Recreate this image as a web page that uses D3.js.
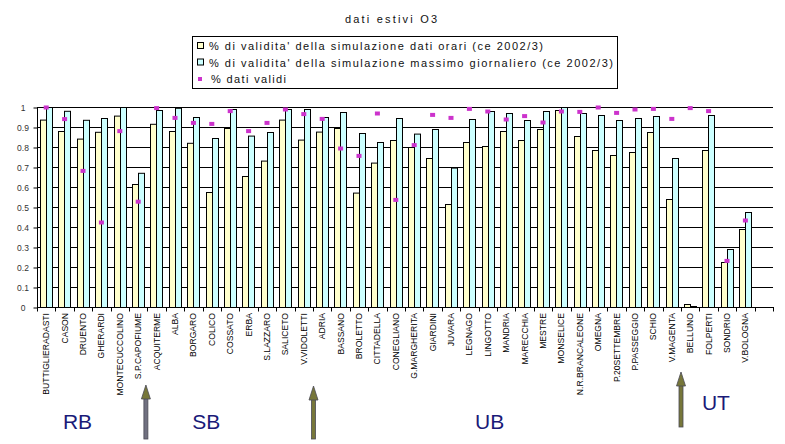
<!DOCTYPE html>
<html><head><meta charset="utf-8">
<script src="https://cdn.jsdelivr.net/npm/d3@7/dist/d3.min.js"></script>
<style>html,body{margin:0;padding:0;background:#fff;}svg{display:block;font-family:Arial,"Liberation Sans",sans-serif;}</style>
</head><body><svg id="c" width="785" height="444"></svg>
<script>
const categories = ["BUTTIGLIERADASTI","CASON","DRUENTO","GHERARDI","MONTECUCCOLINO","S.P.CAPOFIUME","ACQUITERME","ALBA","BORGARO","COLICO","COSSATO","ERBA","S.LAZZARO","SALICETO","V.VIDOLETTI","ADRIA","BASSANO","BROLETTO","CITTADELLA","CONEGLIANO","G.MARGHERITA","GIARDINI","JUVARA","LEGNAGO","LINGOTTO","MANDRIA","MARECCHIA","MESTRE","MONSELICE","N.R.BRANCALEONE","OMEGNA","P.20SETTEMBRE","P.PASSEGGIO","SCHIO","V.MAGENTA","BELLUNO","FOLPERTI","SONDRIO","V.BOLOGNA",""];
const orari =   [0.937,0.880,0.842,0.876,0.957,0.615,0.916,0.880,0.821,0.575,0.895,0.655,0.732,0.937,0.837,0.877,0.895,0.572,0.722,0.835,0.800,0.745,0.515,0.825,0.805,0.880,0.835,0.890,0.985,0.855,0.785,0.760,0.775,0.875,0.540,0.015,0.785,0.225,0.390,null];
const massimo = [1.000,0.981,0.936,0.945,1.000,0.671,0.985,0.996,0.950,0.845,0.990,0.857,0.875,0.990,0.990,0.950,0.975,0.870,0.825,0.945,0.867,0.890,0.697,0.940,0.980,0.970,0.935,0.980,1.000,0.970,0.960,0.935,0.945,0.955,0.745,0.005,0.960,0.290,0.475,null];
const validi =  [1.000,0.942,0.683,0.425,0.882,0.529,0.997,0.948,0.923,0.918,0.982,0.882,0.923,0.990,0.967,0.943,0.795,0.758,0.970,0.538,0.812,0.963,0.948,0.993,0.980,0.940,0.957,0.925,0.980,0.978,1.000,0.973,0.990,0.993,0.943,0.997,0.982,0.233,0.435,null];
const yTicks = [0,0.1,0.2,0.3,0.4,0.5,0.6,0.7,0.8,0.9,1];
const seriesNames = ["% di validita' della simulazione dati orari (ce 2002/3)","% di validita' della simulazione massimo giornaliero (ce 2002/3)","% dati validi"];
const colors = ["#FFFFCC","#CCFFFF","#CC33CC"];
const title = "dati estivi O3";
const regions = [{label:"RB", at:2.2, y:429},{label:"SB", at:9.2, y:429},{label:"UB", at:24.6, y:429},{label:"UT", at:36.9, y:410}];
const arrows = [{at:6, tip:385, bottom:439, dx:-1.5, shaft:"#707080"},{at:15, tip:386, bottom:439, dx:0.5, shaft:"#77773A"},{at:35, tip:372, bottom:427, dx:0, shaft:"#77773A"}];

const svg = d3.select("#c");
const x = d3.scaleBand().domain(d3.range(categories.length)).range([37,773]).padding(0);
const y = d3.scaleLinear().domain([0,1]).range([307.5,107.5]);
const bw = x.bandwidth();

// title
svg.append("text").attr("x",391).attr("y",23).attr("text-anchor","middle")
  .attr("font-size",11).attr("textLength",92).attr("lengthAdjust","spacing").attr("fill","#111").text(title);

// gridlines
svg.append("g").selectAll("line").data(yTicks.slice(1)).join("line")
  .attr("x1",37).attr("x2",773).attr("y1",d=>y(d)).attr("y2",d=>y(d))
  .attr("stroke","#000").attr("stroke-width",1);

// y axis
const ya = svg.append("g").attr("transform","translate(37.5,0)")
  .call(d3.axisLeft(y).tickValues(yTicks).tickSize(4).tickFormat(d=>d3.format("")(+d.toFixed(1))));
ya.select(".domain").attr("stroke","#000").attr("d","M0,107.5V307.5");
ya.selectAll(".tick line").attr("stroke","#000");
ya.selectAll(".tick text").attr("font-size",8.5).attr("fill","#333").attr("text-anchor","middle").attr("x",-14.5).attr("font-family","Arial, Liberation Sans, sans-serif");

// bars
const g = svg.append("g");
categories.forEach((c,i)=>{
  const x0 = x(i);
  if (orari[i]!=null) g.append("rect").attr("x",Math.round(x0+bw/6)+0.5).attr("y",y(orari[i]))
     .attr("width",Math.round(bw/3)).attr("height",y(0)-y(orari[i]))
     .attr("fill",colors[0]).attr("stroke","#000").attr("stroke-width",1);
  if (massimo[i]!=null) g.append("rect").attr("x",Math.round(x0+bw/6)+Math.round(bw/3)+0.5).attr("y",y(massimo[i]))
     .attr("width",Math.round(bw/3)).attr("height",y(0)-y(massimo[i]))
     .attr("fill",colors[1]).attr("stroke","#000").attr("stroke-width",1);
});
// markers
svg.append("g").selectAll("rect").data(validi.map((v,i)=>({v,i})).filter(d=>d.v!=null)).join("rect")
  .attr("x",d=>x(d.i)+bw/2-2.5).attr("y",d=>y(d.v)-2).attr("width",5).attr("height",4).attr("fill",colors[2]);

// x axis
svg.append("line").attr("x1",37).attr("x2",773).attr("y1",307.5).attr("y2",307.5).attr("stroke","#000");
svg.append("g").selectAll("line").data(d3.range(categories.length+1)).join("line")
  .attr("x1",d=>Math.round(37+d*bw)+0.5).attr("x2",d=>Math.round(37+d*bw)+0.5).attr("y1",307).attr("y2",311.5).attr("stroke","#000");
svg.append("g").selectAll("text").data(categories).join("text")
  .attr("transform",(d,i)=>`translate(${x(i)+bw/2},313) rotate(-90)`)
  .attr("text-anchor","end").attr("dy","0.35em").attr("font-size",8.6).attr("fill","#000").text(d=>d);

// legend
const lg = svg.append("g");
lg.append("rect").attr("x",192.5).attr("y",36.5).attr("width",425).attr("height",52).attr("fill","#fff").attr("stroke","#000");
const lw = [334,404,75];
seriesNames.forEach((n,i)=>{
  const cy = 46 + i*16.5;
  if (i<2) lg.append("rect").attr("x",197.5).attr("y",cy-3.5).attr("width",6).attr("height",6).attr("fill",colors[i]).attr("stroke","#000");
  else lg.append("rect").attr("x",198).attr("y",cy-2).attr("width",4).attr("height",4).attr("fill",colors[2]);
  lg.append("text").attr("x",i<2?209:211).attr("y",cy+4).attr("font-size",11).attr("fill","#111")
    .attr("textLength",lw[i]).attr("lengthAdjust","spacing").text(n);
});

// annotations
svg.append("g").selectAll("text").data(regions).join("text")
  .attr("x",d=>x(0)+d.at*bw).attr("y",d=>d.y).attr("text-anchor","middle")
  .attr("font-size",21).attr("fill","#1A1A78").text(d=>d.label);
const ag = svg.append("g");
arrows.forEach(d=>{
  const cx=x(d.at)+d.dx, t=d.tip, h=t+14;
  ag.append("rect").attr("x",cx-2).attr("y",h-1).attr("width",4).attr("height",d.bottom-h+1)
    .attr("fill",d.shaft).attr("stroke","#4a4a55").attr("stroke-width",0.8);
  ag.append("path").attr("d",`M${cx},${t}L${cx+4.5},${h}L${cx-4.5},${h}Z`)
    .attr("fill","#77773A").attr("stroke","#4a4a55").attr("stroke-width",0.8);
});
</script></body></html>
